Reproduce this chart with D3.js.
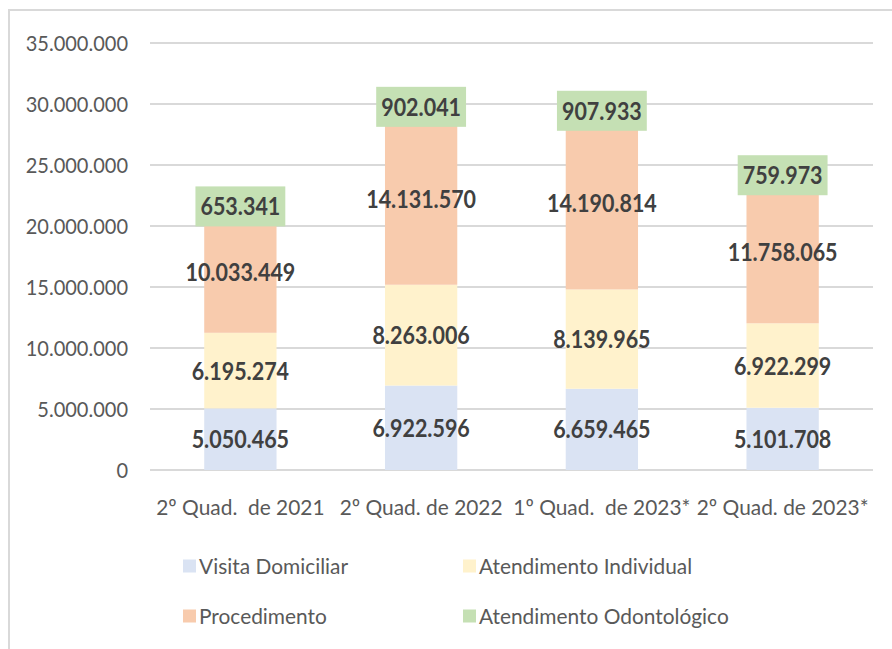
<!DOCTYPE html>
<html><head><meta charset="utf-8">
<script src="https://cdn.jsdelivr.net/npm/d3@7"></script>
<style>
body{margin:0;background:#fff}
text{font-family:Lato,"Open Sans",sans-serif;white-space:pre}
</style>
</head><body><svg id="c" width="892" height="649"></svg>
<script>
const categories = ["2º Quad.  de 2021", "2º Quad. de 2022", "1º Quad.  de 2023*", "2º Quad. de 2023*"];
const seriesNames = ["Visita Domiciliar", "Atendimento Individual", "Procedimento", "Atendimento Odontológico"];
const visitaDomiciliar = [5050465, 6922596, 6659465, 5101708];
const atendimentoIndividual = [6195274, 8263006, 8139965, 6922299];
const procedimento = [10033449, 14131570, 14190814, 11758065];
const atendimentoOdontologico = [653341, 902041, 907933, 759973];
const yTicks = [0, 5000000, 10000000, 15000000, 20000000, 25000000, 30000000, 35000000];
const colors = ["#DAE3F3", "#FFF2CC", "#F8CBAD", "#C5E0B4"];

const seriesValues = [visitaDomiciliar, atendimentoIndividual, procedimento, atendimentoOdontologico];
const rows = categories.map((c, i) => {
  const r = {cat: c};
  seriesNames.forEach((s, j) => r[s] = seriesValues[j][i]);
  return r;
});

const loc = d3.formatLocale({decimal: ",", thousands: ".", grouping: [3], currency: ["", ""]});
const fmt = loc.format(",d");
const SX = 0.86;      // bold labels
const SXT = 0.91;     // tick labels
const SXR = 0.95;     // category + legend

const svg = d3.select("#c");
svg.append("rect").attr("x", 9).attr("y", 10).attr("width", 900).attr("height", 700)
  .attr("fill", "none").attr("stroke", "#D9D9D9").attr("stroke-width", 2);

const x = d3.scaleBand().domain(categories).range([150, 873]).paddingInner(0.6).paddingOuter(0.3);
const y = d3.scaleLinear().domain([0, 35000000]).range([470, 43]);

svg.append("g").selectAll("line").data(yTicks).join("line")
  .attr("x1", 150).attr("x2", 873)
  .attr("y1", d => y(d)).attr("y2", d => y(d))
  .attr("stroke", "#D9D9D9").attr("stroke-width", 2);

svg.append("g").selectAll("text").data(yTicks).join("text")
  .attr("transform", d => `translate(128,${y(d)}) scale(${SXT},1)`)
  .attr("dy", "0.36em").attr("text-anchor", "end")
  .attr("font-size", 22).attr("fill", "#595959")
  .text(d => fmt(d));

const stack = d3.stack().keys(seriesNames)(rows);

const gBars = svg.append("g");
stack.forEach((layer, j) => {
  gBars.append("g").attr("fill", colors[j]).selectAll("rect").data(layer).join("rect")
    .attr("x", d => x(d.data.cat)).attr("width", x.bandwidth())
    .attr("y", d => y(d[1])).attr("height", d => y(d[0]) - y(d[1]));
});

const gLab = svg.append("g");
stack.forEach((layer, j) => {
  layer.forEach(d => {
    const cx = x(d.data.cat) + x.bandwidth() / 2;
    const cy = y((d[0] + d[1]) / 2);
    const g = gLab.append("g");
    const t = g.append("text")
      .attr("transform", `translate(${cx},${cy}) scale(${SX},1)`)
      .attr("dy", "0.36em").attr("text-anchor", "middle")
      .attr("font-size", 25).attr("font-weight", 700).attr("fill", "#404040")
      .text(fmt(d[1] - d[0]));
    if (j === 3) {
      const w = t.node().getComputedTextLength() * SX + 10;
      g.insert("rect", "text").attr("x", cx - w / 2).attr("y", cy - 20)
        .attr("width", w).attr("height", 40).attr("fill", colors[3]);
    }
  });
});

svg.append("g").selectAll("text").data(categories).join("text")
  .attr("transform", d => `translate(${x(d) + x.bandwidth() / 2},507) scale(${SXR},1)`)
  .attr("dy", "0.36em").attr("text-anchor", "middle")
  .attr("font-size", 22).attr("fill", "#595959")
  .text(d => d);

const legPos = [[183, 566], [463, 566], [183, 616], [463, 616]];
const gLeg = svg.append("g");
seriesNames.forEach((s, j) => {
  const [lx, ly] = legPos[j];
  gLeg.append("rect").attr("x", lx).attr("y", ly - 6.5).attr("width", 13).attr("height", 13).attr("fill", colors[j]);
  gLeg.append("text").attr("transform", `translate(${lx + 16},${ly}) scale(${SXR},1)`)
    .attr("dy", "0.36em").attr("font-size", 22).attr("fill", "#595959").text(s);
});
</script>
</body></html>
